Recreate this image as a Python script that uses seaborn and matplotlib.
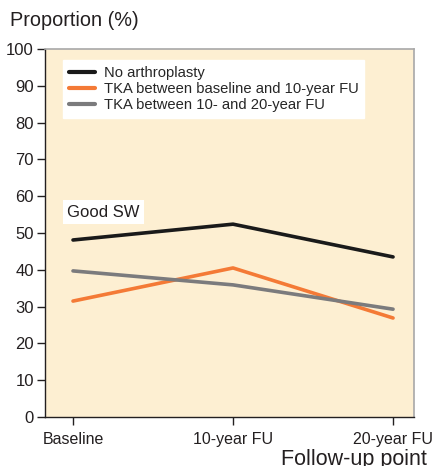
import matplotlib
matplotlib.use("Agg")
import matplotlib.pyplot as plt
import seaborn as sns
import pandas as pd

timepoints = ["Baseline", "10-year FU", "20-year FU"]
groups = ["No arthroplasty", "TKA between baseline and 10-year FU", "TKA between 10- and 20-year FU"]
no_arthro = [48.1, 52.4, 43.5]
tka_base_10 = [31.5, 40.5, 26.9]
tka_10_20 = [39.7, 35.9, 29.3]
colors = ["#1a1a1a", "#f47a36", "#7b7b7d"]

rows = []
for g, vals in zip(groups, [no_arthro, tka_base_10, tka_10_20]):
    for t, v in zip(timepoints, vals):
        rows.append({"time": t, "group": g, "value": v})
df = pd.DataFrame(rows)

sns.set_style("ticks")
plt.rcParams["font.family"] = ["Liberation Sans", "DejaVu Sans"]

fig = plt.figure(figsize=(4.34, 4.66), dpi=100)
ax = fig.add_axes([45/434, 1-417/466, (414-45)/434, (417-49)/466])
ax.set_facecolor("#fdefd2")

sns.lineplot(data=df, x="time", y="value", hue="group", hue_order=groups,
             palette=colors, linewidth=2.6, ax=ax, sort=False, legend=True)

ax.set_xlim(-0.175, 2.131)
ax.set_ylim(0, 100)
ax.set_yticks(range(0, 101, 10))
ax.set_xlabel("")
ax.set_ylabel("")

for s in ["left", "bottom"]:
    ax.spines[s].set_color("#231f20")
    ax.spines[s].set_linewidth(1.0)
for s in ["top", "right"]:
    ax.spines[s].set_visible(True)
    ax.spines[s].set_color("#a8a8a8")
    ax.spines[s].set_linewidth(1.2)

ax.tick_params(axis="y", direction="out", length=6, width=1, color="#231f20",
               labelcolor="#231f20", labelsize=12, pad=2)
ax.tick_params(axis="x", direction="out", length=6, width=1, color="#231f20",
               labelcolor="#231f20", labelsize=11.5, pad=5)

leg = ax.legend(loc="upper left", bbox_to_anchor=(0.049, 0.97), frameon=True,
                fancybox=False, framealpha=1, edgecolor="white", facecolor="white",
                fontsize=10.6, handlelength=1.75, handletextpad=0.6, labelspacing=0.15,
                borderpad=0.4, borderaxespad=0)
for line in leg.get_lines():
    line.set_linewidth(3)

ax.text(0.06, 55.7, "Good SW", transform=ax.get_yaxis_transform(), fontsize=12,
        color="#231f20", va="center", ha="left",
        bbox=dict(facecolor="white", edgecolor="none", pad=3))

fig.text(10/434, 1-20/466, "Proportion (%)", fontsize=14.3, color="#231f20",
         va="center", ha="left")
fig.text(281/434, 1-465/466, "Follow-up point", fontsize=15.5, color="#231f20",
         va="baseline", ha="left")

fig.savefig("out.png", dpi=100)
